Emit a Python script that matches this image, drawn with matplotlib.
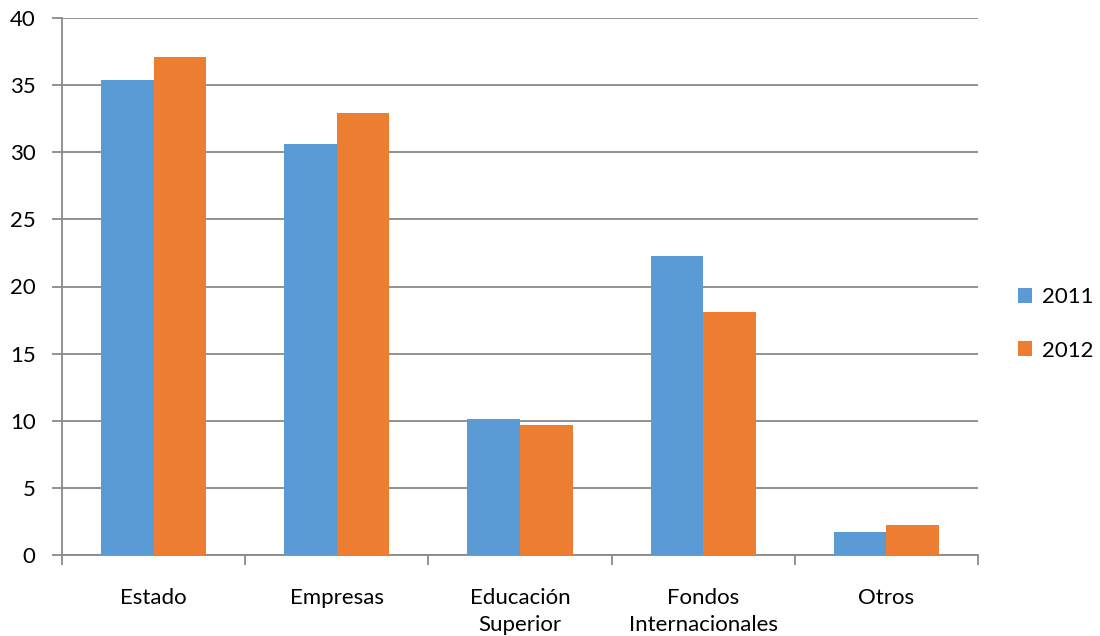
import matplotlib
matplotlib.use("Agg")
import matplotlib.pyplot as plt
import numpy as np

categories = ["Estado", "Empresas", "Educación\nSuperior", "Fondos\nInternacionales", "Otros"]
series_names = ["2011", "2012"]
values_2011 = [35.4, 30.6, 10.1, 22.3, 1.7]
values_2012 = [37.1, 32.9, 9.7, 18.1, 2.2]
yticks = [0, 5, 10, 15, 20, 25, 30, 35, 40]

colors = ["#5B9BD5", "#ED7D31"]
plt.rcParams['font.family'] = ['Lato', 'DejaVu Sans']
FS = 16

fig = plt.figure(figsize=(11, 6.36), dpi=100)
ax = fig.add_axes([62/1100, 1-555/636, (978-62)/1100, (555-18)/636])

x = np.arange(len(categories))
w = 0.287
ax.bar(x - w/2, values_2011, w, color=colors[0], label=series_names[0], zorder=3)
ax.bar(x + w/2, values_2012, w, color=colors[1], label=series_names[1], zorder=3)

ax.set_xlim(-0.5, len(categories) - 0.5)
ax.set_ylim(0, 40)
ax.set_yticks(yticks)
ax.set_yticklabels([str(v) for v in yticks], fontsize=FS)
ax.yaxis.grid(True, color="#898989", linewidth=1.3, zorder=0)
ax.set_axisbelow(True)

ax.set_xticks(x)
ax.set_xticklabels(categories, fontsize=FS, linespacing=1.4)
ax.tick_params(axis='x', length=0, pad=24)
ax.set_xticks(np.arange(len(categories) + 1) - 0.5, minor=True)
ax.tick_params(axis='x', which='minor', length=7, color="#898989", width=1.3)
ax.tick_params(axis='y', length=7, color="#898989", width=1.3, pad=12)

for s in ['top', 'right']:
    ax.spines[s].set_visible(False)
for s in ['left', 'bottom']:
    ax.spines[s].set_color("#898989")
    ax.spines[s].set_linewidth(1.3)

leg = fig.legend(loc='center left', bbox_to_anchor=(1018/1100, 1-324/636), frameon=False,
                 fontsize=FS, handlelength=0.65, handleheight=0.65,
                 handletextpad=0.45, labelspacing=1.5, borderpad=0, borderaxespad=0)

fig.savefig("out.png", dpi=100)
